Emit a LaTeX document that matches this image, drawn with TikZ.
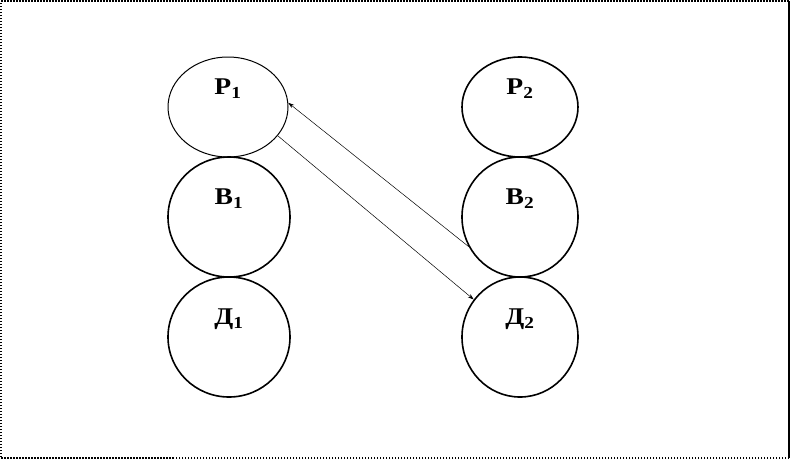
\documentclass[tikz,border=0pt]{standalone}
\usepackage{fontspec}
\setmainfont{Liberation Serif}
\newfontfamily\lblfont[BoldFeatures={FakeStretch=1.15}]{Liberation Serif}
\usetikzlibrary{shapes.geometric,arrows.meta}
\begin{document}
\begin{tikzpicture}[x=1pt,y=-1pt,
  blob/.style={ellipse,draw,line width=1.6pt,inner sep=0pt},
  lbl/.style={font=\lblfont\fontsize{24}{28}\selectfont\bfseries,yshift=18pt},
  conn/.style={line width=0.5pt,-{Stealth[length=6pt,width=4pt]}}]
\useasboundingbox (0,0) rectangle (790,459);
\draw[line width=2pt,dash pattern=on 1.5pt off 1.5pt] (789,458) -- (1,458) -- (1,1) -- (789,1);
\draw[line width=2pt] (789,1) -- (789,458);
\node[blob,minimum width=120pt,minimum height=100pt,line width=1pt,
  label={[lbl]center:Р\textsubscript{1}}] (p1) at (228,107) {};
\node[blob,minimum width=122pt,minimum height=120pt,
  label={[lbl]center:В\textsubscript{1}}] (b1) at (229,217) {};
\node[blob,minimum width=122pt,minimum height=120pt,
  label={[lbl]center:Д\textsubscript{1}}] (d1) at (229,337) {};
\node[blob,minimum width=116pt,minimum height=100pt,
  label={[lbl]center:Р\textsubscript{2}}] (p2) at (520,107) {};
\node[blob,minimum width=116pt,minimum height=120pt,
  label={[lbl]center:В\textsubscript{2}}] (b2) at (520,217) {};
\node[blob,minimum width=116pt,minimum height=120pt,
  label={[lbl]center:Д\textsubscript{2}}] (d2) at (520,337) {};
\draw[conn] (b2.210) -- (p1.4);
\draw[conn] (p1.-30) -- (d2.141);
\end{tikzpicture}
\end{document}
